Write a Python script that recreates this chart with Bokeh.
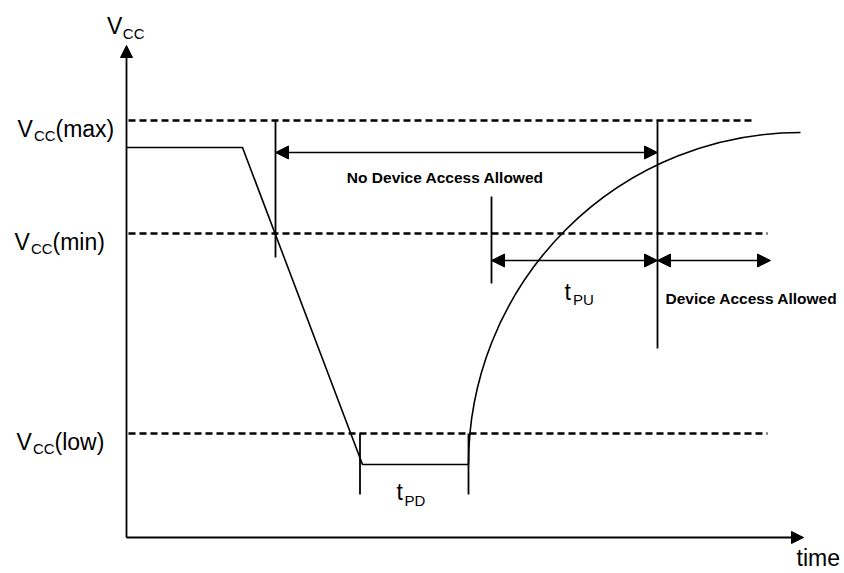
from math import pi
from bokeh.plotting import figure
from bokeh.models import Range1d, Arrow, NormalHead
from bokeh.embed import file_html
from bokeh.resources import INLINE
from bokeh.core.properties import value

W, H = 844, 573

def Y(s):
    # diagram is described top-down (like the drawing); flip to Bokeh's y
    return H - s

FONT = value("Liberation Sans")

# ---- voltage levels (diagram units, measured top-down) ----
level_names = ["(max)", "(min)", "(low)"]
level_y = [120, 233, 433]
level_x_end = [755, 767, 767]
level_label_x = [17, 14, 16]

# ---- Vcc signal ----
signal_x = [126, 242, 362, 468]
signal_y = [147, 147, 464, 464]
rise_cx, rise_cy, rise_r = 800, 464, 332

# ---- marker lines ----
marker_x = [275, 657, 491, 359.5, 468]
marker_top = [120, 120, 196, 433, 433]
marker_bottom = [257, 348, 283, 494, 494]

# ---- dimension arrows ----
arrow_y = [152, 260, 260]
arrow_x0 = [275, 491, 657]
arrow_x1 = [657, 657, 770]

# ---- axes ----
axis_x0, axis_y0 = 126, 537
axis_x_tip, axis_y_tip = 803, 45

p = figure(width=W, height=H, x_range=Range1d(0, W), y_range=Range1d(0, H),
           toolbar_location=None, output_backend="svg", min_border=0)
p.axis.visible = False
p.grid.visible = False
p.outline_line_color = None
p.background_fill_color = "white"
p.border_fill_color = "white"

# axes with arrow heads
p.add_layout(Arrow(end=NormalHead(size=12, fill_color="black", line_color="black", line_width=1),
                   x_start=axis_x0, y_start=Y(axis_y0), x_end=axis_x0, y_end=Y(axis_y_tip),
                   line_width=1.8, line_color="black"))
p.add_layout(Arrow(end=NormalHead(size=12, fill_color="black", line_color="black", line_width=1),
                   x_start=axis_x0, y_start=Y(axis_y0), x_end=axis_x_tip, y_end=Y(axis_y0),
                   line_width=1.8, line_color="black"))

# dashed level lines
p.segment(x0=[128] * 3, y0=[Y(v) for v in level_y], x1=level_x_end, y1=[Y(v) for v in level_y],
          line_color="black", line_width=2.5, line_dash="7 4")

# signal
p.line(signal_x, [Y(v) for v in signal_y], line_color="black", line_width=1.6)
p.arc(x=[rise_cx], y=[Y(rise_cy)], radius=rise_r, start_angle=pi / 2, end_angle=pi,
      direction="anticlock", line_color="black", line_width=1.6)

# markers
p.segment(x0=marker_x, y0=[Y(v) for v in marker_top], x1=marker_x, y1=[Y(v) for v in marker_bottom],
          line_color="black", line_width=1.8)

# dimension arrows
for y, xa, xb in zip(arrow_y, arrow_x0, arrow_x1):
    p.add_layout(Arrow(start=NormalHead(size=13, fill_color="black", line_color="black", line_width=1),
                       end=NormalHead(size=13, fill_color="black", line_color="black", line_width=1),
                       x_start=xa, y_start=Y(y), x_end=xb, y_end=Y(y),
                       line_width=1.6, line_color="black"))

# ---- texts ----
main_x, main_y, main_t = [], [], []
sub_x, sub_y, sub_t = [], [], []
for name, ly, lx in zip(level_names, level_y, level_label_x):
    main_x += [lx, lx + 38]
    main_y += [Y(ly + 8), Y(ly + 8)]
    main_t += ["V", name]
    sub_x.append(lx + 16.5)
    sub_y.append(Y(ly + 15))
    sub_t.append("CC")
main_x.append(106.5); main_y.append(Y(25)); main_t.append("V")
sub_x.append(122.3); sub_y.append(Y(33)); sub_t.append("CC")
main_x += [396, 564]; main_y += [Y(491), Y(291)]; main_t += ["t", "t"]
sub_x += [404, 572.5]; sub_y += [Y(500), Y(299)]; sub_t += ["PD", "PU"]
main_x.append(796); main_y.append(Y(557)); main_t.append("time")

p.text(x=main_x, y=main_y, text=main_t, text_font=FONT, text_font_size="23px",
       text_baseline="alphabetic", text_align="left", text_color="black")
p.text(x=sub_x, y=sub_y, text=sub_t, text_font=FONT, text_font_size="15px",
       text_baseline="alphabetic", text_align="left", text_color="black")

p.text(x=[445], y=[Y(177)], text=["No Device Access Allowed"], text_font=FONT,
       text_font_size="15.5px", text_font_style="bold", text_baseline="alphabetic",
       text_align="center", text_color="black")
p.text(x=[665], y=[Y(298)], text=["Device Access Allowed"], text_font=FONT,
       text_font_size="15.5px", text_font_style="bold", text_baseline="alphabetic",
       text_align="left", text_color="black")

open("out.html", "w").write(file_html(p, INLINE))
